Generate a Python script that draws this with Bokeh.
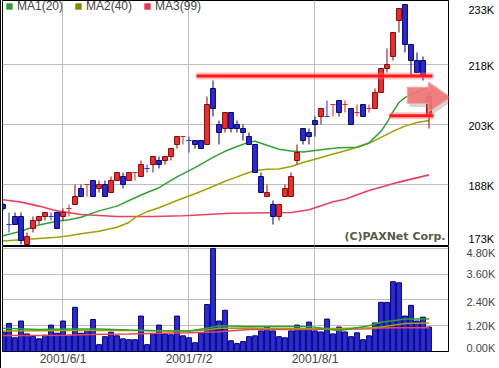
from bokeh.plotting import figure
from bokeh.layouts import column
from bokeh.models import (Range1d, FixedTicker, ColumnDataSource, Legend, LegendItem,
                          Label, Grid)
from bokeh.embed import file_html
from bokeh.resources import INLINE

# ---------------- data (prices in thousands) ----------------
idx = list(range(-1, 71))
opens = [183, 178, 180, 180, 173, 177, 179, 180, 180, 181, 180, 182, 183, 187, 188, 189, 187, 188,
         186, 189, 190, 189, 191, 190, 192, 193, 194, 194, 195, 198, 200, 199, 199, 199, 198, 212,
         203, 202, 206, 203, 202, 200, 198, 190, 185, 183, 180, 185, 185, 194, 202, 201, 204, 205,
         205, 208, 209, 208, 207, 206, 208, 207, 207, 211, 217, 220, 229, 233, 223, 219, 219, 205]
highs = [183.5, 181, 181, 181, 176, 180, 180, 181, 181, 181, 182, 183, 188, 188, 188, 189, 189, 189,
         190, 191, 191, 191, 191, 194, 193, 195, 195, 195, 197, 200, 200, 200, 199, 199, 210, 214,
         204, 206, 206, 204, 203, 201, 198, 191, 188, 184, 183, 188, 191, 198, 202, 202, 205, 207,
         209, 208, 209, 209, 207, 208, 208, 208, 212, 217, 222, 226, 232, 233, 223, 221, 220, 211]
lows = [181.5, 176, 178, 173, 173, 176, 178, 179, 179, 177, 179, 180, 183, 185, 185, 185, 186, 185,
        186, 189, 187, 189, 189, 190, 191, 191, 192, 193, 194, 197, 198, 196, 197, 197, 198, 205,
        198, 201, 201, 201, 199, 198, 191, 186, 185, 178, 179, 185, 185, 193, 198, 198, 200, 203,
        205, 205, 205, 206, 203, 205, 205, 206, 207, 211, 216, 219, 226, 221, 215, 216, 214, 202]
closes = [182, 178, 178, 174, 175, 179, 180, 181, 180, 177, 181, 182, 185, 185, 188, 185, 188, 185,
          189, 191, 188, 191, 191, 193, 192, 195, 193, 195, 197, 200, 200, 199, 198, 197, 208, 207,
          201, 206, 202, 202, 201, 198, 191, 186, 186, 180, 183, 187, 190, 196, 199, 200, 203, 207,
          205, 208, 206, 208, 203, 206, 205, 207, 211, 217, 218, 226, 232, 223, 219, 216, 215, 210]
volumes = [0.9, 1.31, 0.64, 1.42, 0.82, 0.70, 0.59, 0.76, 1.23, 0.85, 1.42, 0.76, 2.06, 0.85, 0.98,
           1.49, 0.32, 0.69, 0.90, 0.73, 0.59, 0.55, 0.55, 1.65, 0.32, 0.82, 1.23, 0.82, 0.78, 1.65,
           0.73, 0.64, 0.41, 0.85, 2.19, 4.80, 1.42, 1.92, 0.50, 0.37, 0.46, 0.69, 0.73, 0.96, 1.14,
           0.96, 0.69, 0.64, 0.96, 1.23, 1.05, 1.37, 0.96, 0.91, 1.51, 0.82, 1.14, 0.91, 0.69, 0.87,
           0.55, 0.73, 1.33, 2.29, 2.29, 3.25, 3.20, 1.65, 2.15, 1.42, 1.60, 1.14]

ma20_x = [-1, 2, 5, 8, 10, 12, 15, 18, 21, 23, 25, 28, 31, 34, 36, 38, 40, 41, 43, 45, 47, 49, 51,
          53, 55, 58, 60, 62, 63, 64, 65, 66, 67, 68, 70]
ma20_y = [175.2, 176.3, 177.9, 178.8, 179.2, 179.8, 181.4, 182.6, 184.7, 186.0, 187.2, 189.9, 192.2,
          194.8, 196.3, 197.5, 198.6, 198.8, 197.8, 196.8, 196.4, 196.1, 196.5, 196.9, 197.2, 197.3,
          198.4, 201.3, 203.5, 206.2, 208.5, 209.7, 210.6, 211.2, 212.3]
ma40_x = [-1, 2, 5, 8, 10, 12, 15, 18, 20, 21, 23, 25, 28, 31, 34, 36, 38, 40, 41, 43, 45, 47, 49,
          51, 53, 55, 58, 60, 62, 64, 66, 68, 70]
ma40_y = [173.9, 174.2, 174.5, 174.8, 175.2, 175.7, 176.3, 177.3, 178.5, 179.7, 181.2, 182.2, 184.0,
          185.7, 187.5, 188.8, 189.9, 191.0, 191.5, 191.8, 191.9, 192.5, 193.5, 194.3, 195.2, 196.0,
          197.3, 198.3, 199.8, 201.3, 202.6, 203.5, 204.0]
ma99_x = [-1, 0, 2, 5, 8, 12, 15, 18, 24, 29, 33, 37, 47, 50, 54, 56, 60, 65, 70]
ma99_y = [184.2, 184.0, 183.6, 182.6, 181.4, 180.5, 180.25, 180.0, 180.0, 180.2, 180.5, 180.8,
          181.0, 181.7, 183.7, 184.3, 186.5, 188.6, 190.4]

vma_x = [-1, 5, 10, 15, 20, 25, 30, 33, 35, 40, 45, 50, 55, 58, 60, 62, 64, 66, 70]
vma20 = [1.08, 1.02, 1.05, 1.05, 1.0, 0.97, 0.95, 1.08, 1.2, 1.17, 1.17, 1.17, 0.97, 1.11, 1.2,
         1.36, 1.43, 1.51, 1.51]
vma40 = [0.96, 0.97, 0.98, 0.98, 0.98, 0.97, 0.96, 1.0, 1.08, 1.1, 1.07, 1.07, 1.07, 1.1, 1.1,
         1.14, 1.22, 1.3, 1.33]
vma99 = [0.75, 0.75, 0.76, 0.8, 0.82, 0.85, 0.87, 0.9, 0.92, 1.02, 1.02, 1.02, 1.05, 1.05, 1.06,
         1.1, 1.11, 1.11, 1.11]

legend_labels = ["MA1(20)", "MA2(40)", "MA3(99)"]
date_ticks = [9, 30, 51]
date_labels = ["2001/6/1", "2001/7/2", "2001/8/1"]
price_grid = [188, 203, 218]
price_label_pos = [174.3, 187.6, 202.6, 217.6, 231.6]
price_labels = ["173K", "188K", "203K", "218K", "233K"]
vol_grid = [1.2, 2.4, 3.6, 4.8]
vol_label_pos = [0.14, 1.17, 2.32, 3.59, 4.71]
vol_labels = ["0.00K", "1.20K", "2.40K", "3.60K", "4.80K"]

# user-drawn annotations
hline1 = dict(x0=31.25, x1=70.6, y=215.1)
hline2 = dict(x0=63.4, x1=70.75, y=205.2)
arrow_x = [66.4, 69.9, 69.9, 73.6, 69.9, 69.9, 66.4]
arrow_y = [212.3, 212.3, 213.6, 209.8, 206.1, 208.3, 208.3]

# ---------------- styles ----------------
RED_FILL, RED_LINE, RED_DOJI = "#e8302f", "#900000", "#e02020"
BLUE_FILL, BLUE_LINE, BLUE_DOJI = "#2929d6", "#00006e", "#2a2af0"
MA_COLORS = ["#33a033", "#a0a000", "#ec4060"]
LEG_COLORS = ["#339933", "#888800", "#ee3355"]
GRID = "#bdbdbd"
FONT = "Liberation Sans"

n = len(idx)
up = []
for k in range(n):
    if closes[k] > opens[k]:
        up.append(True)
    elif closes[k] < opens[k]:
        up.append(False)
    else:
        up.append(k > 0 and closes[k] >= closes[k - 1])
doji = [opens[k] == closes[k] for k in range(n)]

wick = dict(x=[], lo=[], hi=[], c=[])
body = dict(x=[], top=[], bottom=[], f=[], l=[])
dj = dict(x0=[], x1=[], y=[], c=[])
for k in range(n):
    wick["x"].append(idx[k]); wick["lo"].append(lows[k]); wick["hi"].append(highs[k])
    if doji[k]:
        col = RED_DOJI if up[k] else BLUE_DOJI
        wick["c"].append(col)
        dj["x0"].append(idx[k] - 0.42); dj["x1"].append(idx[k] + 0.42)
        dj["y"].append(closes[k]); dj["c"].append(col)
    else:
        wick["c"].append(RED_LINE if up[k] else BLUE_LINE)
        body["x"].append(idx[k])
        body["top"].append(max(opens[k], closes[k]))
        body["bottom"].append(min(opens[k], closes[k]))
        body["f"].append(RED_FILL if up[k] else BLUE_FILL)
        body["l"].append(RED_LINE if up[k] else BLUE_LINE)

x_range = Range1d(-1.083, 73.25)

# ---------------- price panel ----------------
p = figure(width=498, height=246, x_range=x_range, y_range=Range1d(172.75, 234.0),
           output_backend="svg", toolbar_location=None, x_axis_location=None,
           y_axis_location="right", min_border_left=1, min_border_right=51,
           min_border_top=0, min_border_bottom=1, background_fill_color="white",
           border_fill_color="white", outline_line_color="black", outline_line_width=1)
p.grid.grid_line_color = None
p.add_layout(Grid(dimension=0, ticker=FixedTicker(ticks=date_ticks), grid_line_color=GRID))
p.add_layout(Grid(dimension=1, ticker=FixedTicker(ticks=price_grid), grid_line_color=GRID))

ax = p.yaxis[0]
ax.ticker = FixedTicker(ticks=price_label_pos)
ax.major_label_overrides = dict(zip(price_label_pos, price_labels))
ax.major_tick_out = 0
ax.major_tick_in = 0
ax.minor_tick_out = 0
ax.minor_tick_in = 0
ax.axis_line_color = None
ax.major_label_standoff = 20
ax.major_label_text_font = FONT
ax.major_label_text_font_size = "11px"
ax.major_label_text_color = "black"

# moving averages
p.line(ma99_x, ma99_y, line_color=MA_COLORS[2], line_width=1.6)
p.line(ma40_x, ma40_y, line_color=MA_COLORS[1], line_width=1.5)
p.line(ma20_x, ma20_y, line_color=MA_COLORS[0], line_width=1.5)

# candles
p.segment(x0="x", y0="lo", x1="x", y1="hi", line_color="c", line_width=1,
          source=ColumnDataSource(wick))
p.vbar(x="x", width=0.8, top="top", bottom="bottom", fill_color="f", line_color="l",
       line_width=1, source=ColumnDataSource(body))
p.segment(x0="x0", y0="y", x1="x1", y1="y", line_color="c", line_width=1.2,
          source=ColumnDataSource(dj))

# annotations drawn on the chart
p.patch([x + 0.35 for x in arrow_x], [y - 0.9 for y in arrow_y], fill_color="#888888",
        fill_alpha=0.35, line_color=None)
p.patch(arrow_x, arrow_y, fill_color="#f27676", fill_alpha=0.9, line_color="#f5a0a0",
        line_width=1)
for h in (hline1, hline2):
    p.segment(x0=[h["x0"]], y0=[h["y"]], x1=[h["x1"]], y1=[h["y"]], line_color="#ff7070",
              line_alpha=0.45, line_width=7)
    p.segment(x0=[h["x0"]], y0=[h["y"]], x1=[h["x1"]], y1=[h["y"]], line_color="#ff1a1a",
              line_width=3)

# legend (swatch renderers sit outside the visible range; only their legend glyph shows)
leg_items = []
for lab, col in zip(legend_labels, LEG_COLORS):
    r = p.quad(left=[-20], right=[-19], top=[100], bottom=[99], fill_color=col, line_color=None)
    leg_items.append(LegendItem(label=lab, renderers=[r]))
legend = Legend(items=leg_items, orientation="horizontal", location=(3, 232),
                label_text_font=FONT, label_text_font_size="12px", glyph_width=8,
                glyph_height=8, label_height=10, label_standoff=4, spacing=11, padding=0,
                margin=0, background_fill_alpha=0, border_line_alpha=0)
p.add_layout(legend)

p.add_layout(Label(x=72.75, y=173.4, text="(C)PAXNet Corp.", text_align="right",
                   text_baseline="bottom", text_font="DejaVu Sans", text_font_style="bold",
                   text_font_size="11px", text_color="#5a5a48"))

# ---------------- volume panel ----------------
pv = figure(width=498, height=122, x_range=x_range, y_range=Range1d(0, 4.89),
            output_backend="svg", toolbar_location=None, y_axis_location="right",
            min_border_left=1, min_border_right=51, min_border_top=0, min_border_bottom=15,
            background_fill_color="white", border_fill_color="white",
            outline_line_color="black", outline_line_width=1)
pv.grid.grid_line_color = None
pv.add_layout(Grid(dimension=0, ticker=FixedTicker(ticks=date_ticks), grid_line_color=GRID))
pv.add_layout(Grid(dimension=1, ticker=FixedTicker(ticks=vol_grid), grid_line_color=GRID))

vy = pv.yaxis[0]
vy.ticker = FixedTicker(ticks=vol_label_pos)
vy.major_label_overrides = dict(zip(vol_label_pos, vol_labels))
vy.major_tick_out = 0
vy.major_tick_in = 0
vy.minor_tick_out = 0
vy.minor_tick_in = 0
vy.axis_line_color = None
vy.major_label_standoff = 18
vy.major_label_text_font = FONT
vy.major_label_text_font_size = "11px"

vx = pv.xaxis[0]
vx.ticker = FixedTicker(ticks=date_ticks)
vx.major_label_overrides = dict(zip(date_ticks, date_labels))
vx.major_tick_out = 0
vx.major_tick_in = 0
vx.minor_tick_out = 0
vx.minor_tick_in = 0
vx.axis_line_color = None
vx.major_label_standoff = 0
vx.major_label_text_font = FONT
vx.major_label_text_font_size = "12px"

pv.vbar(x=idx, width=0.8, top=volumes, bottom=0, fill_color="#2a2ad8", line_color="#000070",
        line_width=1)
pv.line(vma_x, vma99, line_color=MA_COLORS[2], line_width=1.5)
pv.line(vma_x, vma40, line_color=MA_COLORS[1], line_width=1.5)
pv.line(vma_x, vma20, line_color=MA_COLORS[0], line_width=1.5)

layout = column(p, pv, spacing=0,
                styles={"position": "absolute", "left": "0px", "top": "0px",
                        "border-left": "1px solid black"})

open("out.html", "w").write(file_html(layout, INLINE))
